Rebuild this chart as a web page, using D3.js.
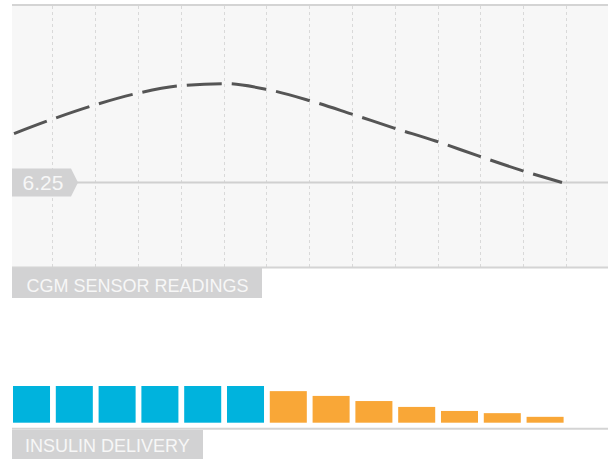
<!DOCTYPE html>
<html>
<head>
<meta charset="utf-8">
<script src="https://cdn.jsdelivr.net/npm/d3@7"></script>
<style>
  html, body { margin: 0; padding: 0; background: #ffffff; }
  svg { display: block; }
  text { font-family: "Liberation Sans", Arial, Helvetica, sans-serif; }
</style>
</head>
<body>
<svg id="chart" width="608" height="459"></svg>
<script>
// Time slots (13 intervals) shared by both panels
const slots = d3.range(13).map(i => "T" + (i + 1));

// CGM readings at the 14 slot boundaries (mmol/L)
const readingTimes = d3.range(14);
const cgmValues = [8.11, 8.71, 9.24, 9.67, 9.94, 10.01, 9.79, 9.37, 8.86, 8.33, 7.83, 7.27, 6.73, 6.25];

// Reference threshold shown on the tag
const thresholdValue = 6.25;

// Insulin delivered per slot and its status
const insulinValues = [1, 1, 1, 1, 1, 1, 0.86, 0.73, 0.59, 0.43, 0.32, 0.26, 0.16];
const insulinStatus = ["basal", "basal", "basal", "basal", "basal", "basal",
                       "reduced", "reduced", "reduced", "reduced", "reduced", "reduced", "reduced"];

// Panel titles
const cgmTitle = "CGM SENSOR READINGS";
const insulinTitle = "INSULIN DELIVERY";

const svg = d3.select("#chart");
const W = 608;
const left = 12;

// ---- scales ----
const x = d3.scaleBand().domain(slots).range([13, 563.6]).paddingInner(0.135).paddingOuter(0);
const step = x.step();
const gap = step - x.bandwidth();

const xt = d3.scaleLinear().domain([0, 13]).range([14, 562]);

const cgmTop = 5, cgmBottom = 268;
const y = d3.scaleLinear().domain([3, 13]).range([cgmBottom, cgmTop]);

const barBase = 422.7;
const yBar = d3.scaleLinear().domain([0, 1]).range([barBase, 386]);

const barColor = d3.scaleOrdinal().domain(["basal", "reduced"]).range(["#00b3dd", "#f9a737"]);

// ---- CGM panel ----
svg.append("rect")
  .attr("x", left).attr("y", cgmTop)
  .attr("width", W - left).attr("height", cgmBottom - cgmTop)
  .attr("fill", "#f7f7f7");

// vertical dashed gridlines at the end of each slot
svg.append("g").selectAll("line")
  .data(slots)
  .join("line")
  .attr("x1", d => Math.round(x(d) + x.bandwidth() + gap / 2 - 0.5) + 0.5)
  .attr("x2", d => Math.round(x(d) + x.bandwidth() + gap / 2 - 0.5) + 0.5)
  .attr("y1", cgmTop + 1).attr("y2", cgmBottom)
  .attr("stroke", "#d9d9d9")
  .attr("stroke-width", 1)
  .attr("stroke-dasharray", "3,3");

// top and bottom borders
svg.append("line")
  .attr("x1", left).attr("x2", W).attr("y1", 5).attr("y2", 5)
  .attr("stroke", "#d4d4d4").attr("stroke-width", 2);
svg.append("line")
  .attr("x1", left).attr("x2", W).attr("y1", cgmBottom - 0.5).attr("y2", cgmBottom - 0.5)
  .attr("stroke", "#d4d4d4").attr("stroke-width", 2);

// threshold line
const ty = y(thresholdValue);
svg.append("line")
  .attr("x1", left).attr("x2", W).attr("y1", ty).attr("y2", ty)
  .attr("stroke", "#d0d0d0").attr("stroke-width", 2);

// CGM trace
const line = d3.line()
  .x((d, i) => xt(readingTimes[i]))
  .y(d => y(d))
  .curve(d3.curveMonotoneX);

svg.append("path")
  .datum(cgmValues)
  .attr("d", line)
  .attr("fill", "none")
  .attr("stroke", "#555555")
  .attr("stroke-width", 3)
  .attr("stroke-dasharray", "35,10");

// threshold tag
const tagH = 28, tagW = 59, tip = 7;
svg.append("path")
  .attr("d", `M${left},${ty - tagH / 2} H${left + tagW} L${left + tagW + tip},${ty} L${left + tagW},${ty + tagH / 2} H${left} Z`)
  .attr("fill", "#d2d2d3");
svg.append("text")
  .attr("x", 22.5).attr("y", ty + 7.4)
  .attr("font-size", 21)
  .attr("fill", "#f7f7f7")
  .text(d3.format(".2f")(thresholdValue));

// panel title
svg.append("rect")
  .attr("x", left).attr("y", 268).attr("width", 250).attr("height", 30)
  .attr("fill", "#d2d2d3");
svg.append("text")
  .attr("x", 26.5).attr("y", 291.8)
  .attr("font-size", 18)
  .attr("fill", "#f7f7f7")
  .text(cgmTitle);

// ---- Insulin panel ----
svg.append("g").selectAll("rect")
  .data(insulinValues)
  .join("rect")
  .attr("x", (d, i) => x(slots[i]))
  .attr("y", d => yBar(d))
  .attr("width", x.bandwidth())
  .attr("height", d => barBase - yBar(d))
  .attr("fill", (d, i) => barColor(insulinStatus[i]));

svg.append("line")
  .attr("x1", left).attr("x2", W).attr("y1", 428.7).attr("y2", 428.7)
  .attr("stroke", "#d4d4d4").attr("stroke-width", 2);

svg.append("rect")
  .attr("x", left).attr("y", 430).attr("width", 191).attr("height", 29)
  .attr("fill", "#d2d2d3");
svg.append("text")
  .attr("x", 25).attr("y", 451.8)
  .attr("font-size", 18)
  .attr("fill", "#f7f7f7")
  .text(insulinTitle);
</script>
</body>
</html>
